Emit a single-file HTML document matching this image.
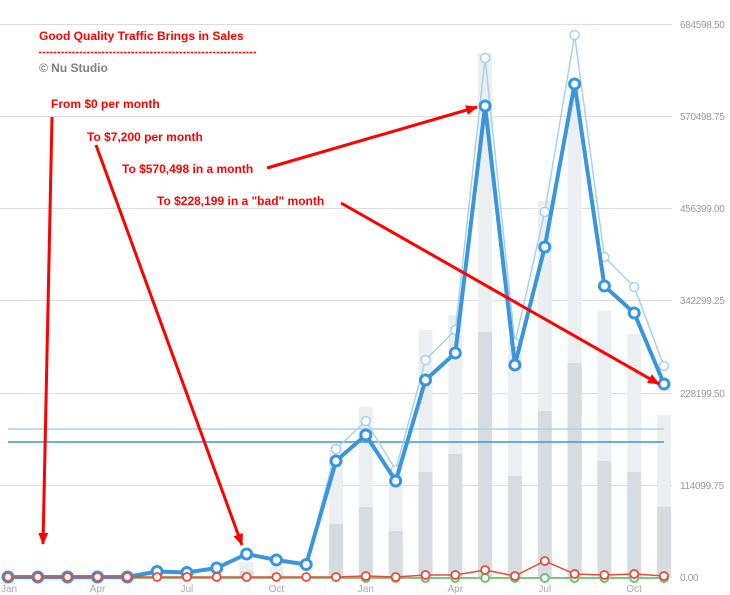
<!DOCTYPE html>
<html><head><meta charset="utf-8"><style>
html,body{margin:0;padding:0;background:#fff;}
svg{display:block;}
text{font-family:"Liberation Sans",Arial,sans-serif;}
</style></head><body>
<svg width="730" height="595" viewBox="0 0 730 595" xmlns="http://www.w3.org/2000/svg">
<!-- gridlines -->
<g stroke="#dcdcdc" stroke-width="1">
<line x1="0" y1="24.5" x2="672" y2="24.5"/>
<line x1="0" y1="116.5" x2="672" y2="116.5"/>
<line x1="0" y1="208.5" x2="672" y2="208.5"/>
<line x1="0" y1="300.5" x2="672" y2="300.5"/>
<line x1="0" y1="393.5" x2="672" y2="393.5"/>
<line x1="0" y1="485.5" x2="672" y2="485.5"/>
<line x1="0" y1="577.5" x2="672" y2="577.5"/>
</g>
<g fill="#999" font-size="10" letter-spacing="-0.3">
<text x="680" y="28">684598.50</text>
<text x="680" y="120">570498.75</text>
<text x="680" y="212">456399.00</text>
<text x="680" y="304">342299.25</text>
<text x="680" y="397">228199.50</text>
<text x="680" y="489">114099.75</text>
<text x="680" y="581">0.00</text>
</g>
<!-- bars -->
<g fill="#eceff1">
<rect x="239.6" y="562" width="14" height="16"/>
<rect x="269.4" y="567" width="14" height="11"/>
<rect x="329" y="447" width="14" height="131"/>
<rect x="358.8" y="407" width="14" height="171"/>
<rect x="388.7" y="468" width="14" height="110"/>
<rect x="418.5" y="330" width="14" height="248"/>
<rect x="448.3" y="315" width="14" height="263"/>
<rect x="478.1" y="53" width="14" height="525"/>
<rect x="507.9" y="340" width="14" height="238"/>
<rect x="537.8" y="201" width="14" height="377"/>
<rect x="567.6" y="100" width="14" height="478"/>
<rect x="597.4" y="311" width="14" height="267"/>
<rect x="627.2" y="334" width="14" height="244"/>
<rect x="657" y="415" width="14" height="163"/>
</g>
<g fill="#d6dce0">
<rect x="239.6" y="571" width="14" height="7"/>
<rect x="329" y="524" width="14" height="54"/>
<rect x="358.8" y="507" width="14" height="71"/>
<rect x="388.7" y="531" width="14" height="47"/>
<rect x="418.5" y="472" width="14" height="106"/>
<rect x="448.3" y="454" width="14" height="124"/>
<rect x="478.1" y="332" width="14" height="246"/>
<rect x="507.9" y="476" width="14" height="102"/>
<rect x="537.8" y="411" width="14" height="167"/>
<rect x="567.6" y="363" width="14" height="215"/>
<rect x="597.4" y="461" width="14" height="117"/>
<rect x="627.2" y="472" width="14" height="106"/>
<rect x="657" y="507" width="14" height="71"/>
</g>
<!-- x labels -->
<g fill="#aaa" font-size="10" text-anchor="middle">
<text x="9" y="592">Jan</text>
<text x="97.5" y="592">Apr</text>
<text x="186.9" y="592">Jul</text>
<text x="276.4" y="592">Oct</text>
<text x="365.8" y="592">Jan</text>
<text x="455.3" y="592">Apr</text>
<text x="544.8" y="592">Jul</text>
<text x="634.2" y="592">Oct</text>
</g>
<!-- horizontal average lines -->
<line x1="8" y1="429" x2="664" y2="429" stroke="#a8d1ee" stroke-width="1.5"/>
<line x1="8" y1="442" x2="664" y2="442" stroke="#3a96dc" stroke-width="1.5"/>
<!-- green series -->
<polyline fill="none" stroke="#5cb85c" stroke-width="1.5" points="8,578 664,578"/>
<g fill="#fff" stroke="#6cc070" stroke-width="2">
<circle cx="425.5" cy="578" r="4"/><circle cx="455.3" cy="578" r="4"/><circle cx="485.1" cy="578" r="4"/><circle cx="514.9" cy="578" r="4"/><circle cx="544.8" cy="578" r="4"/><circle cx="574.6" cy="578" r="4"/><circle cx="604.4" cy="578" r="4"/><circle cx="634.2" cy="578" r="4"/><circle cx="664" cy="578" r="4"/><circle cx="395.7" cy="578" r="4"/><circle cx="365.8" cy="578" r="4"/>
</g>
<!-- light blue series -->
<polyline fill="none" stroke="#a8d1ee" stroke-width="1.5" points="8,577 37.8,577 67.6,577 97.5,577 127.3,577 157.1,571.5 186.9,572.5 216.7,568 246.6,554 276.4,560 306.2,564.5 336,449 365.8,421 395.7,470 425.5,360 455.3,330 485.1,58 514.9,343 544.8,212 574.6,35 604.4,257 634.2,287 664,366"/>
<g fill="#fff" stroke="#a8d1ee" stroke-width="1.5">
<circle cx="336" cy="449" r="4.5"/><circle cx="365.8" cy="421" r="4.5"/><circle cx="395.7" cy="470" r="4.5"/><circle cx="425.5" cy="360" r="4.5"/><circle cx="455.3" cy="330" r="4.5"/><circle cx="485.1" cy="58" r="4.5"/><circle cx="514.9" cy="343" r="4.5"/><circle cx="544.8" cy="212" r="4.5"/><circle cx="574.6" cy="35" r="4.5"/><circle cx="604.4" cy="257" r="4.5"/><circle cx="634.2" cy="287" r="4.5"/><circle cx="664" cy="366" r="4.5"/>
</g>
<!-- dark blue series -->
<polyline fill="none" stroke="#3a96dc" stroke-width="4" stroke-linejoin="round" points="8,577 37.8,577 67.6,577 97.5,577 127.3,577 157.1,571.5 186.9,572.5 216.7,568 246.6,554 276.4,560 306.2,564.5 336,461 365.8,435 395.7,481 425.5,380 455.3,353 485.1,106 514.9,365 544.8,247 574.6,84 604.4,286 634.2,313 664,384"/>
<g fill="#fff" stroke="#3a96dc" stroke-width="3">
<circle cx="8" cy="577" r="5"/><circle cx="37.8" cy="577" r="5"/><circle cx="67.6" cy="577" r="5"/><circle cx="97.5" cy="577" r="5"/><circle cx="127.3" cy="577" r="5"/><circle cx="157.1" cy="571.5" r="5"/><circle cx="186.9" cy="572.5" r="5"/><circle cx="216.7" cy="568" r="5"/><circle cx="246.6" cy="554" r="5"/><circle cx="276.4" cy="560" r="5"/><circle cx="306.2" cy="564.5" r="5"/><circle cx="336" cy="461" r="5"/><circle cx="365.8" cy="435" r="5"/><circle cx="395.7" cy="481" r="5"/><circle cx="425.5" cy="380" r="5"/><circle cx="455.3" cy="353" r="5"/><circle cx="485.1" cy="106" r="5"/><circle cx="514.9" cy="365" r="5"/><circle cx="544.8" cy="247" r="5"/><circle cx="574.6" cy="84" r="5"/><circle cx="604.4" cy="286" r="5"/><circle cx="634.2" cy="313" r="5"/><circle cx="664" cy="384" r="5"/>
</g>
<!-- red series -->
<polyline fill="none" stroke="#e74c3c" stroke-width="1.5" points="8,577 37.8,577 67.6,577 97.5,577 127.3,577 157.1,577 186.9,577 216.7,577 246.6,577 276.4,577 306.2,577 336,577 365.8,576 395.7,577 425.5,575 455.3,575 485.1,570 514.9,576 544.8,561 574.6,574 604.4,575 634.2,574 664,576"/>
<g fill="#fff" stroke="#e74c3c" stroke-width="1.8">
<circle cx="8" cy="577" r="4"/><circle cx="37.8" cy="577" r="4"/><circle cx="67.6" cy="577" r="4"/><circle cx="97.5" cy="577" r="4"/><circle cx="127.3" cy="577" r="4"/><circle cx="157.1" cy="577" r="4"/><circle cx="186.9" cy="577" r="4"/><circle cx="216.7" cy="577" r="4"/><circle cx="246.6" cy="577" r="4"/><circle cx="276.4" cy="577" r="4"/><circle cx="306.2" cy="577" r="4"/><circle cx="336" cy="577" r="4"/><circle cx="365.8" cy="576" r="4"/><circle cx="395.7" cy="577" r="4"/><circle cx="425.5" cy="575" r="4"/><circle cx="455.3" cy="575" r="4"/><circle cx="485.1" cy="570" r="4"/><circle cx="514.9" cy="576" r="4"/><circle cx="544.8" cy="561" r="4"/><circle cx="574.6" cy="574" r="4"/><circle cx="604.4" cy="575" r="4"/><circle cx="634.2" cy="574" r="4"/><circle cx="664" cy="576" r="4"/>
</g>
<!-- annotations -->
<g fill="#ff0000" font-size="12" font-weight="bold">
<text x="39" y="40">Good Quality Traffic Brings in Sales</text>
<text x="51" y="108">From $0 per month</text>
<text x="87" y="141">To $7,200 per month</text>
<text x="122" y="173">To $570,498 in a month</text>
<text x="157" y="205">To $228,199 in a "bad" month</text>
</g>
<line x1="39" y1="52.5" x2="256" y2="52.5" stroke="#ff0000" stroke-width="1.5" stroke-dasharray="2.5,1.2"/>
<text x="39" y="72" fill="#808080" font-size="12" font-weight="bold">© Nu Studio</text>
<!-- arrows -->
<defs>
<marker id="ah" markerWidth="12" markerHeight="10" refX="11" refY="5" orient="auto" markerUnits="userSpaceOnUse">
<polygon points="0,0 12,5 0,10" fill="#ff0000"/>
</marker>
</defs>
<g stroke="#ff0000" stroke-width="3" fill="none" marker-end="url(#ah)">
<line x1="52" y1="117" x2="43" y2="544"/>
<line x1="96" y1="145" x2="242" y2="545"/>
<line x1="267" y1="168" x2="477" y2="107"/>
<line x1="341" y1="203" x2="659" y2="384"/>
</g>
</svg>
</body></html>
